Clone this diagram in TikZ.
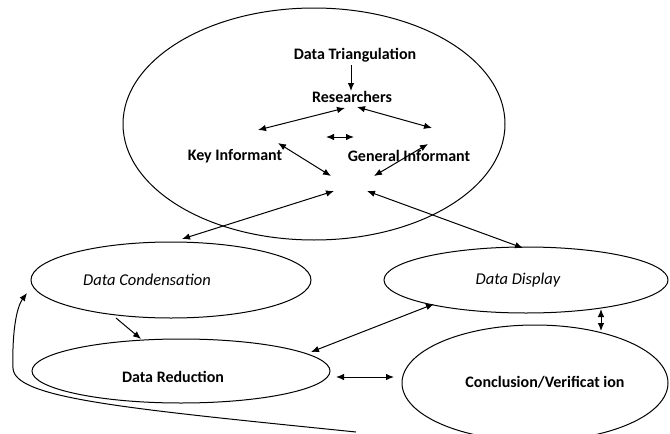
\documentclass[tikz,border=0pt]{standalone}
\usepackage{fontspec}
\setmainfont{Carlito}
\usetikzlibrary{shapes.geometric,arrows.meta}
\tikzset{
  oval/.style={ellipse,draw,line width=1pt,inner sep=0pt},
  lbl/.style={font=\fontsize{16}{19}\selectfont\bfseries,inner sep=0pt},
  ilbl/.style={font=\fontsize{16.5}{19}\selectfont\itshape,inner sep=0pt},
  conn/.style={line width=1pt},
  one/.style={conn,-{Latex[length=8pt,width=6.5pt]}},
  two/.style={conn,{Latex[length=8pt,width=6.5pt]}-{Latex[length=8pt,width=6.5pt]}}
}
\begin{document}
\begin{tikzpicture}[x=1pt,y=-1pt]
\useasboundingbox (0,0) rectangle (670,434);
\clip (0,0) rectangle (670,434);
\fill[white] (0,0) rectangle (670,434);
% ellipses
\node[oval,minimum width=382pt,minimum height=232pt] (big) at (314,124) {};
\node[oval,minimum width=280pt,minimum height=76pt] (cond) at (171,280) {};
\node[oval,minimum width=284pt,minimum height=66pt] (disp) at (526,280) {};
\node[oval,minimum width=298pt,minimum height=64pt] (red) at (181,371) {};
\node[oval,minimum width=266pt,minimum height=116pt] (concl) at (535,383) {};
% labels
\node[lbl] (tri) at (355,55) {Data Triangulation};
\node[lbl] (res) at (352,97) {Researchers};
\node[lbl] (key) at (235,156) {Key Informant};
\node[lbl] (gen) at (409,156) {General Informant};
\node[ilbl] (condt) at (147,280) {Data Condensation};
\node[ilbl] (dispt) at (518,280) {Data Display};
\node[lbl] (redt) at (173,377) {Data Reduction};
\node[lbl] (conct) at (545,382) {Conclusion/Verificat ion};
% coordinates
\coordinate (a1) at (351,65);
\coordinate (a2) at (351,91);
\coordinate (b1) at (258,130);
\coordinate (b2) at (345,108);
\coordinate (c1) at (357,107);
\coordinate (c2) at (432,128);
\coordinate (d1) at (326,137);
\coordinate (d2) at (354,137);
\coordinate (e1) at (278,143);
\coordinate (e2) at (331,176);
\coordinate (f1) at (428,144);
\coordinate (f2) at (374,176);
\coordinate (g1) at (182,239);
\coordinate (g2) at (334,191);
\coordinate (h1) at (367,191);
\coordinate (h2) at (523,248);
\coordinate (i1) at (116,318);
\coordinate (i2) at (141,339);
\coordinate (j1) at (311,352);
\coordinate (j2) at (434,304);
\coordinate (k1) at (336,377);
\coordinate (k2) at (394,377);
\coordinate (l1) at (601,309);
\coordinate (l2) at (601,331);
\coordinate (m1) at (356,432);
\coordinate (m2) at (27,293);
% connectors
\draw[one] (a1) -- (a2);
\draw[two] (b1) -- (b2);
\draw[two] (c1) -- (c2);
\draw[two] (d1) -- (d2);
\draw[two] (e1) -- (e2);
\draw[two] (f1) -- (f2);
\draw[two] (g1) -- (g2);
\draw[two] (h1) -- (h2);
\draw[one] (i1) -- (i2);
\draw[two] (j1) -- (j2);
\draw[two] (k1) -- (k2);
\draw[two] (l1) -- (l2);
\draw[one] (m1) .. controls (120,408) and (14,398) .. (13,368) .. controls (12,335) and (16,308) .. (m2);
\end{tikzpicture}
\end{document}
